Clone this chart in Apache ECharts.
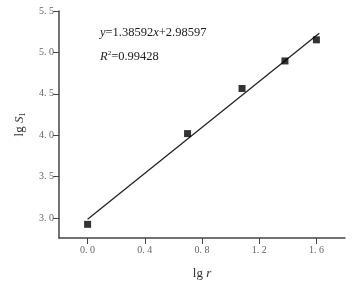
<!DOCTYPE html>
<html><head><meta charset="utf-8">
<script src="https://cdn.jsdelivr.net/npm/echarts@6/dist/echarts.min.js"></script>
<style>html,body{margin:0;padding:0;background:#fff}#c{width:359px;height:285px}</style>
</head><body><div id="c"></div>
<script>
const lgR = [0, 0.699, 1.08, 1.38, 1.60];
const lgS = [2.925, 4.02, 4.565, 4.897, 5.152];
const xTicks = [0.0, 0.4, 0.8, 1.2, 1.6];
const yTicks = [3.0, 3.5, 4.0, 4.5, 5.0, 5.5];
const slope = 1.38592, intercept = 2.98597;
const fitX = [0, 1.62];
const fitLine = fitX.map(x => [x, slope * x + intercept]);

const font = '"Liberation Serif", "DejaVu Serif", serif';
const fmt = v => v.toFixed(1).replace('.', '. ');
const chart = echarts.init(document.getElementById('c'));
chart.setOption({
  animation: false,
  grid: {left: 59, right: 14, top: 11, bottom: 46},
  xAxis: {
    type: 'value', min: -0.2, max: 1.8,
    splitLine: {show: false},
    axisLine: {show: true, onZero: false, lineStyle: {color: '#444', width: 1.5}},
    axisTick: {show: true, customValues: xTicks, length: 6, lineStyle: {color: '#444', width: 1}},
    axisLabel: {customValues: xTicks, formatter: fmt, color: '#666', fontFamily: font, fontSize: 10, margin: 7},
    name: '{n|lg }{i|r}', nameLocation: 'middle', nameGap: 29,
    nameTextStyle: {rich: {n: {fontFamily: font, fontSize: 13, color: '#333'}, i: {fontFamily: font, fontStyle: 'italic', fontSize: 13, color: '#333'}}}
  },
  yAxis: {
    type: 'value', min: 2.76, max: 5.5,
    splitLine: {show: false},
    axisLine: {show: true, onZero: false, lineStyle: {color: '#444', width: 1.5}},
    axisTick: {show: true, customValues: yTicks, length: 6, lineStyle: {color: '#444', width: 1}},
    axisLabel: {customValues: yTicks, formatter: fmt, color: '#666', fontFamily: font, fontSize: 10, margin: 5},
    name: '{n|lg }{i|S}{s|1}', nameLocation: 'middle', nameGap: 32, nameRotate: 90,
    nameTextStyle: {rich: {n: {fontFamily: font, fontSize: 13, color: '#333'}, i: {fontFamily: font, fontStyle: 'italic', fontSize: 13, color: '#333'}, s: {fontFamily: font, fontSize: 8, color: '#333', padding: [6, 0, 0, 0]}}}
  },
  series: [
    {type: 'line', data: fitLine, symbol: 'none', lineStyle: {color: '#222', width: 1.3}, z: 2},
    {type: 'scatter', data: lgR.map((x, i) => [x, lgS[i]]), symbol: 'rect', symbolSize: 7, itemStyle: {color: '#000'}, z: 3}
  ],
  graphic: [
    {type: 'text', left: 100, top: 26, style: {
      text: '{i|y}{n|=1.38592}{i|x}{n|+2.98597}',
      rich: {n: {fontFamily: font, fontSize: 12.5, fill: '#222'}, i: {fontFamily: font, fontStyle: 'italic', fontSize: 12.5, fill: '#222'}}}},
    {type: 'text', left: 100, top: 50, style: {
      text: '{i|R}{s|2}{n|=0.99428}',
      rich: {n: {fontFamily: font, fontSize: 12.5, fill: '#222'}, i: {fontFamily: font, fontStyle: 'italic', fontSize: 12.5, fill: '#222'}, s: {fontFamily: font, fontSize: 7, fill: '#222', padding: [0, 0, 7, 0]}}}}
  ]
});
</script></body></html>
